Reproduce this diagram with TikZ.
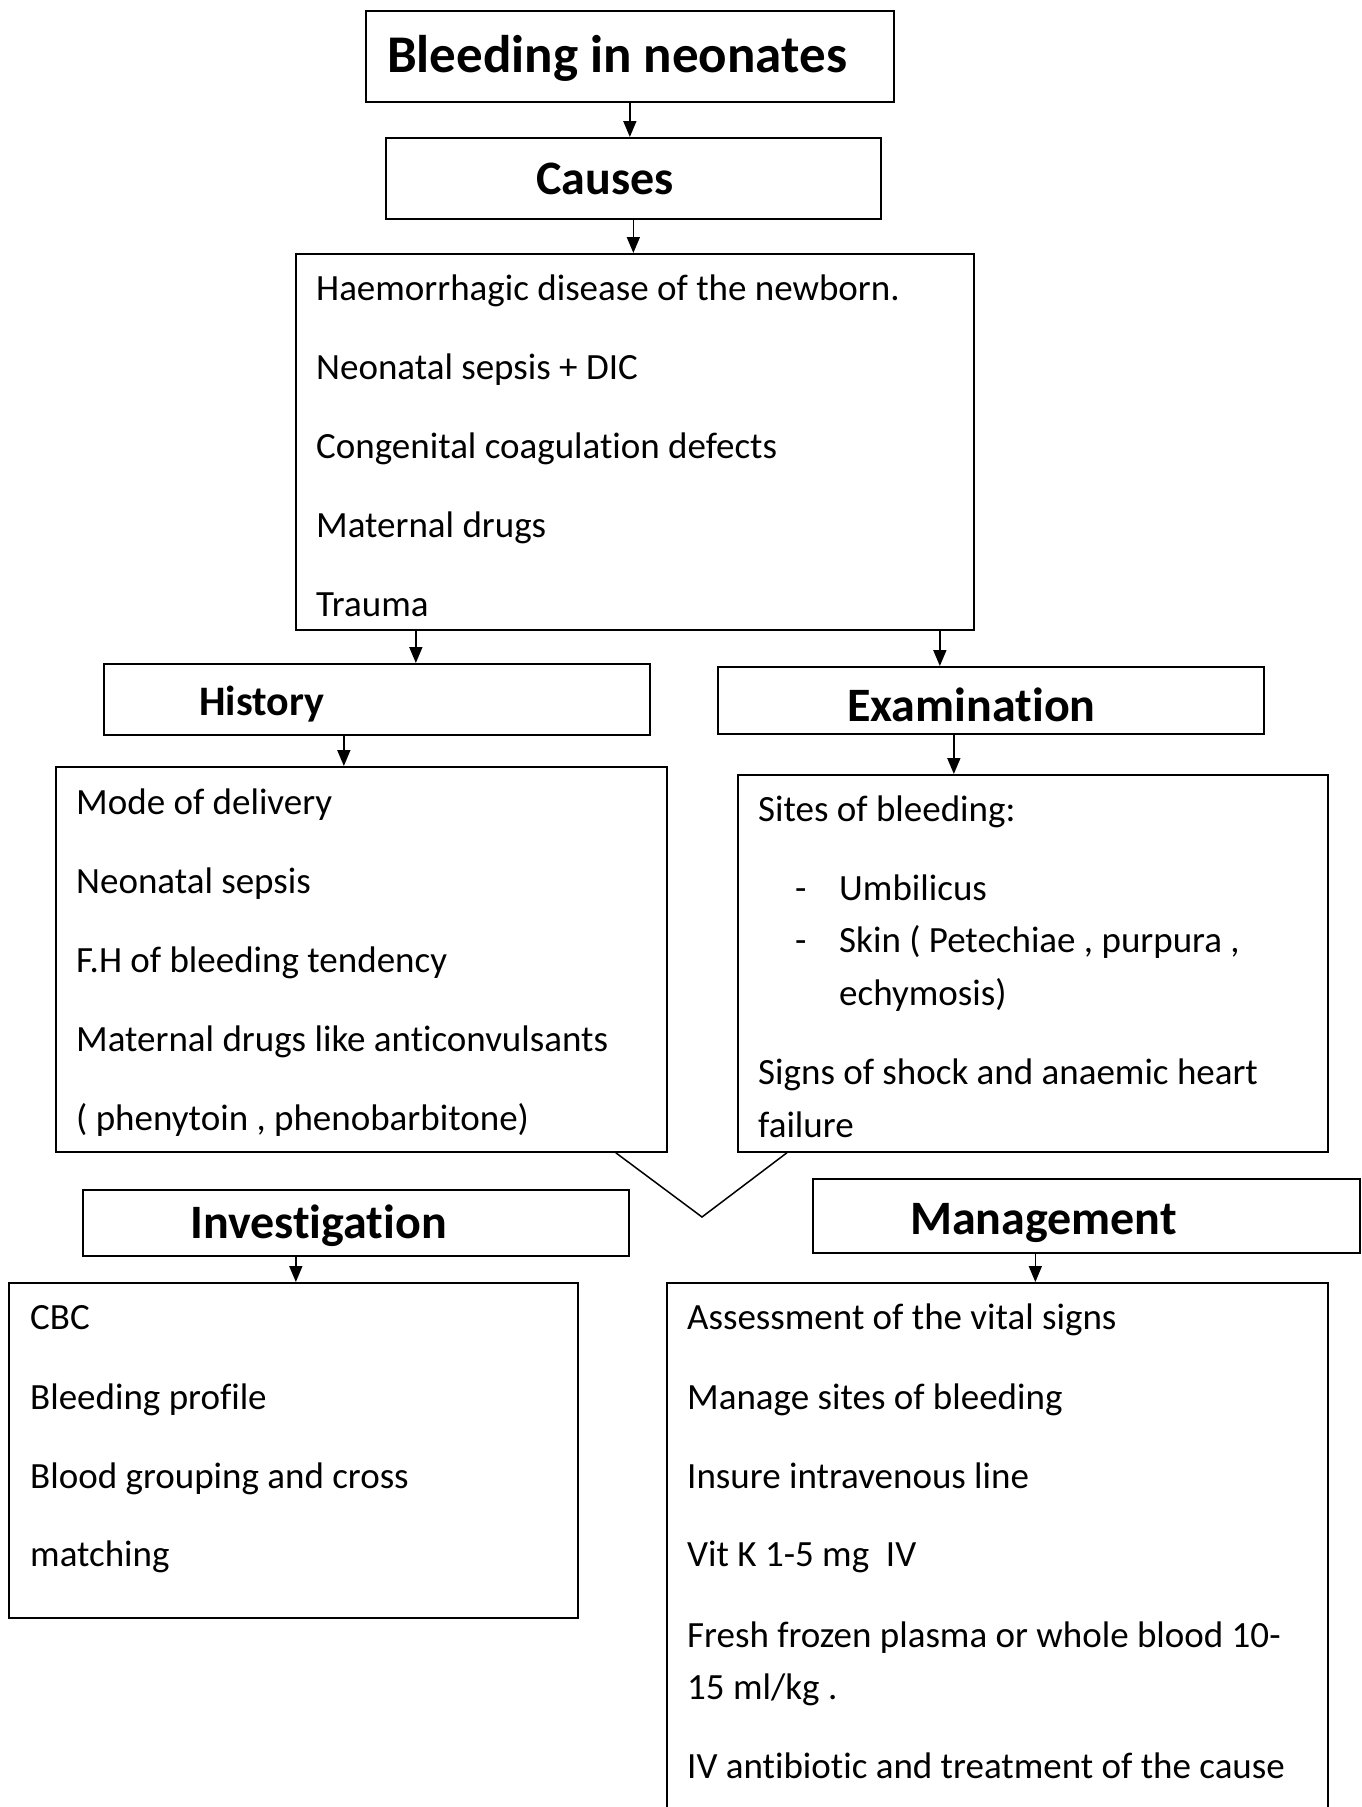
\documentclass[tikz,border=0pt]{standalone}
\usepackage{fontspec}
\setmainfont{Carlito}[Ligatures={NoCommon,NoContextual},Contextuals=NoAlternate]
\usetikzlibrary{arrows.meta}
\begin{document}
\begin{tikzpicture}[x=1pt,y=1pt,
  box/.style={draw, line width=1.7pt, inner sep=0pt, anchor=north west},
  txt/.style={anchor=base west, inner sep=0pt, font=\fontsize{37}{45}\selectfont},
  hd/.style={anchor=base west, inner sep=0pt, font=\fontsize{48}{58}\selectfont\bfseries},
  arr/.style={line width=1.7pt, -{Triangle[length=16pt,width=13pt]}}]
\useasboundingbox (0,0) rectangle (1362,-1807);
\fill[white] (0,0) rectangle (1362,-1807);
\clip (0,0) rectangle (1362,-1807);

% boxes
\node[box, minimum width=528, minimum height=91] (title) at (365,-10) {};
\node[box, minimum width=495, minimum height=81] (causes) at (385,-137) {};
\node[box, minimum width=678, minimum height=376] (causesList) at (295,-253) {};
\node[box, minimum width=546, minimum height=71] (history) at (103,-663) {};
\node[box, minimum width=546, minimum height=67] (exam) at (717,-666) {};
\node[box, minimum width=611, minimum height=385] (histList) at (55,-766) {};
\node[box, minimum width=590, minimum height=377] (examList) at (737,-774) {};
\node[box, minimum width=546, minimum height=66] (invest) at (82,-1189) {};
\node[box, minimum width=547, minimum height=74] (manage) at (812,-1178) {};
\node[box, minimum width=569, minimum height=335] (investList) at (8,-1282) {};
\node[box, minimum width=661, minimum height=560] (manageList) at (666,-1282) {};

% headings
\node[hd, font=\fontsize{53}{64}\selectfont\bfseries] (titleT) at (387,-72) {Bleeding in neonates};
\node[hd, anchor=base] (causesT) at (605,-194) {Causes};
\node[hd, font=\fontsize{42}{50}\selectfont\bfseries] (historyT) at (199,-715) {History};
\node[hd] (examT) at (847,-721) {Examination};
\node[hd] (investT) at (190,-1238) {Investigation};
\node[hd] (manageT) at (910,-1234) {Management};

% list texts
\foreach \t/\y [count=\i] in {{Haemorrhagic disease of the newborn.}/300,{Neonatal sepsis + DIC}/379,{Congenital coagulation defects}/458,{Maternal drugs}/537,{Trauma}/616}
  \node[txt] (cl\i) at (316,-\y) {\t};
\foreach \t/\y [count=\i] in {{Mode of delivery}/814,{Neonatal sepsis}/893,{F.H of bleeding tendency}/972,{Maternal drugs like anticonvulsants}/1051,{( phenytoin , phenobarbitone)}/1130}
  \node[txt] (hl\i) at (76,-\y) {\t};
\node[txt] (el1) at (758,-821) {Sites of bleeding:};
\node[txt] (ed1) at (795,-900) {-};
\node[txt] (el2) at (839,-900) {Umbilicus};
\node[txt] (ed2) at (795,-952) {-};
\node[txt] (el3) at (839,-952) {Skin ( Petechiae , purpura ,};
\node[txt] (el4) at (839,-1005) {echymosis)};
\node[txt] (el5) at (758,-1084) {Signs of shock and anaemic heart};
\node[txt] (el6) at (758,-1137) {failure};
\foreach \t/\y [count=\i] in {{CBC}/1329,{Bleeding profile}/1409,{Blood grouping and cross}/1488,{matching}/1566}
  \node[txt] (il\i) at (30,-\y) {\t};
\foreach \t/\y [count=\i] in {{Assessment of the vital signs}/1329,{Manage sites of bleeding}/1409,{Insure intravenous line}/1488,{Vit K 1-5 mg\ \ IV}/1566,{Fresh frozen plasma or whole blood 10-}/1647,{15 ml/kg .}/1699,{IV antibiotic and treatment of the cause}/1778}
  \node[txt] (ml\i) at (687,-\y) {\t};

% connectors
\draw[arr] (title.south) -- (title.south |- causes.north);
\draw[arr] (causes.south) -- (causes.south |- causesList.north);
\draw[arr] ([xshift=39pt]history.north |- causesList.south) -- ([xshift=39pt]history.north);
\draw[arr] ([xshift=-51pt]exam.north |- causesList.south) -- ([xshift=-51pt]exam.north);
\draw[arr] ([xshift=-33pt]history.south) -- ([xshift=-33pt]history.south |- histList.north);
\draw[arr] ([xshift=-37pt]exam.south) -- ([xshift=-37pt]exam.south |- examList.north);
\draw[arr] ([xshift=-60pt]invest.south) -- ([xshift=-60pt]invest.south |- investList.north);
\draw[arr] ([xshift=-51pt]manage.south) -- ([xshift=-51pt]manage.south |- manageList.north);

% V shape between the two middle boxes
\coordinate (vtip) at (702,-1217);
\draw[line width=1.5pt, line join=miter] ([xshift=-52pt]histList.south east) -- (vtip) -- ([xshift=50pt]examList.south west);
\end{tikzpicture}
\end{document}
